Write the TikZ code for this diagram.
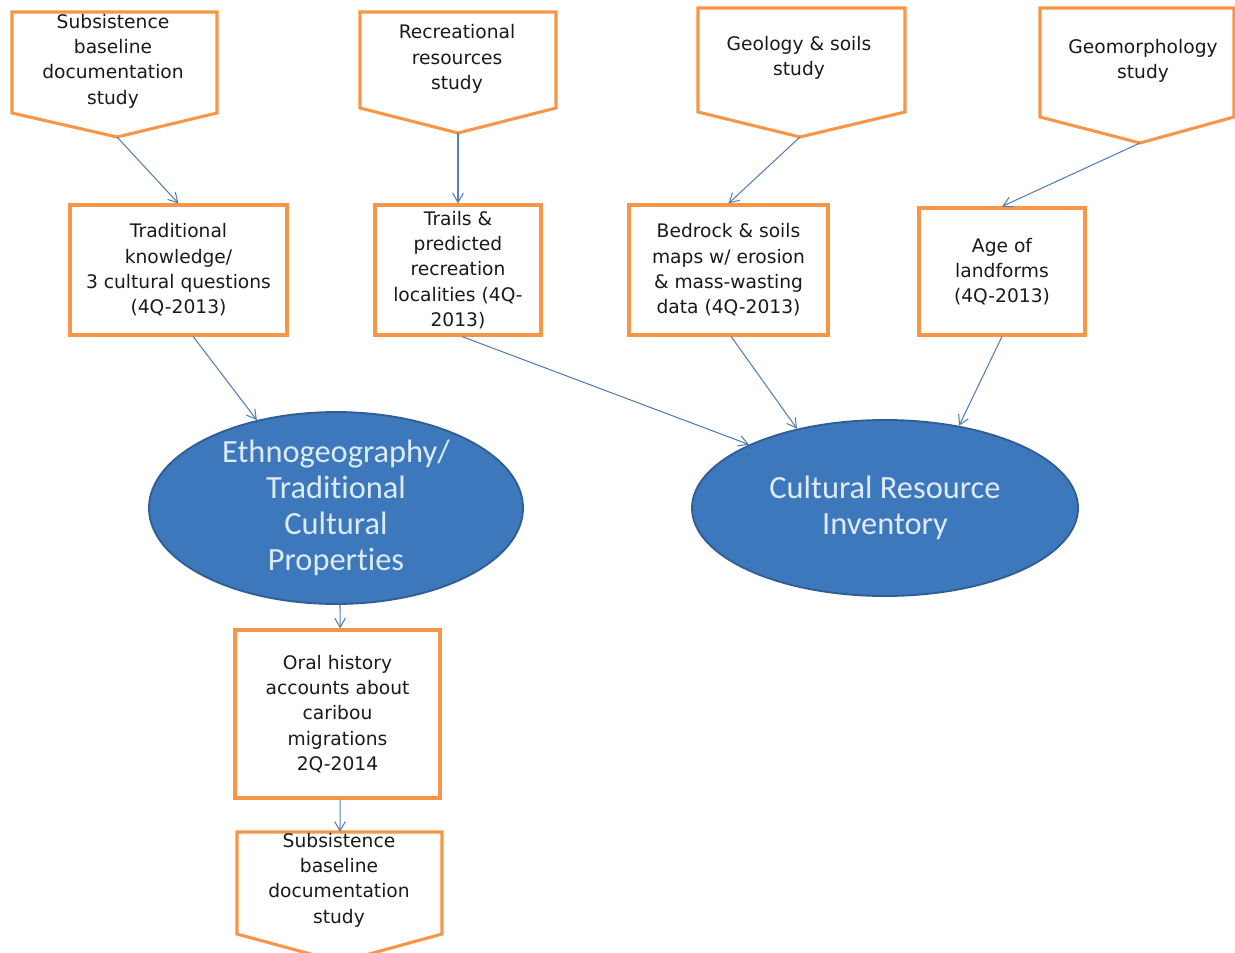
\documentclass[tikz,border=0pt]{standalone}
\usepackage{fontspec}
\setmainfont{DejaVu Sans}
\newfontfamily\ellfont[Ligatures=NoCommon]{Carlito}
\usetikzlibrary{arrows.meta,shapes.geometric}
\definecolor{boxorange}{HTML}{F79646}
\definecolor{ellfill}{HTML}{3E78BC}
\definecolor{elldraw}{HTML}{2E5E94}
\definecolor{elltext}{HTML}{DDEBF7}
\definecolor{arrowblue}{HTML}{5480B4}
\definecolor{txt}{HTML}{1A1A1A}
\tikzset{
  pentabox/.style={draw=boxorange, line width=2.3pt, fill=white, line join=miter},
  rectbox/.style={draw=boxorange, line width=2.3pt, fill=white, align=center, inner sep=2pt,
    font=\fontsize{14}{19}\selectfont, text=txt},
  labeltext/.style={align=center, font=\fontsize{14}{19}\selectfont, text=txt, inner sep=0pt},
  bigell/.style={ellipse, draw=elldraw, line width=1.4pt, fill=ellfill, align=center,
    text=elltext, font=\ellfont\fontsize{24.3}{27}\selectfont, inner sep=0pt},
  conn/.style={draw=arrowblue, line width=0.8pt, -{Straight Barb[length=7pt,width=8pt]}}
}
\begin{document}
\begin{tikzpicture}[x=0.75pt,y=-0.75pt]
\useasboundingbox[fill=white] (0,0) rectangle (1235,953);

% pentagon (off-page connector) boxes
\draw[pentabox] (12,12) -- (217,12) -- (217,113) -- (117,137) -- (12,113) -- cycle;
\coordinate (s1tip) at (117,137);
\node[labeltext] (s1) at (113,61) {Subsistence\\baseline\\documentation\\study};

\draw[pentabox] (360,12) -- (556,12) -- (556,108) -- (458,133) -- (360,108) -- cycle;
\coordinate (rectip) at (458,133);
\node[labeltext] (rec) at (457,59) {Recreational\\resources\\study};

\draw[pentabox] (698,8) -- (905,8) -- (905,112) -- (800,137) -- (698,112) -- cycle;
\coordinate (geotip) at (800,137);
\node[labeltext] (geo) at (799,58) {Geology \& soils\\study};

\draw[pentabox] (1040,8) -- (1234,8) -- (1234,117) -- (1140,143) -- (1040,117) -- cycle;
\coordinate (geomtip) at (1140,143);
\node[labeltext] (geom) at (1143,61) {Geomorphology\\study};

\draw[pentabox] (237,832) -- (442,832) -- (442,934) -- (340,962) -- (237,934) -- cycle;
\coordinate (s2top) at (340,832);
\node[labeltext] (s2) at (339,880) {Subsistence\\baseline\\documentation\\study};

% rectangles
\node[rectbox, minimum width=162.75pt, minimum height=97.5pt] (tk) at (178.5,270)
  {Traditional\\knowledge/\\3 cultural questions\\(4Q-2013)};
\node[rectbox, minimum width=124.5pt, minimum height=97.5pt] (tr) at (458,270)
  {Trails \&\\predicted\\recreation\\localities (4Q-\\2013)};
\node[rectbox, minimum width=149.25pt, minimum height=97.5pt] (bed) at (728.5,270)
  {Bedrock \& soils\\maps w/ erosion\\\& mass-wasting\\data (4Q-2013)};
\node[rectbox, minimum width=124.5pt, minimum height=95.25pt] (age) at (1002,271.5)
  {Age of\\landforms\\(4Q-2013)};
\node[rectbox, minimum width=153.75pt, minimum height=126pt] (oral) at (337.5,714)
  {Oral history\\accounts about\\caribou\\migrations\\2Q-2014};

% ellipses
\node[bigell, minimum width=280.5pt, minimum height=132pt] (eth) at (336,508)
  {Ethnogeography/\\Traditional\\Cultural\\Properties};
\node[bigell, minimum width=289.5pt, minimum height=132pt] (cri) at (885,508)
  {Cultural Resource\\Inventory};

% connectors
\draw[conn] (s1tip) -- (tk.north);
\draw[conn] (rectip) -- (tr.north);
\draw[conn] (geotip) -- (bed.north);
\draw[conn] (geomtip) -- (age.north);
\draw[conn] ([xshift=11pt]tk.south) -- (eth.132);
\draw[conn] ([xshift=3pt]tr.south) -- (cri.155);
\draw[conn] ([xshift=2pt]bed.south) -- (cri.138);
\draw[conn] (age.south) -- (cri.48);
\draw[conn] ([xshift=3pt]eth.south) -- ([xshift=2pt]oral.north);
\draw[conn] ([xshift=2pt]oral.south) -- (s2top);
\end{tikzpicture}
\end{document}
